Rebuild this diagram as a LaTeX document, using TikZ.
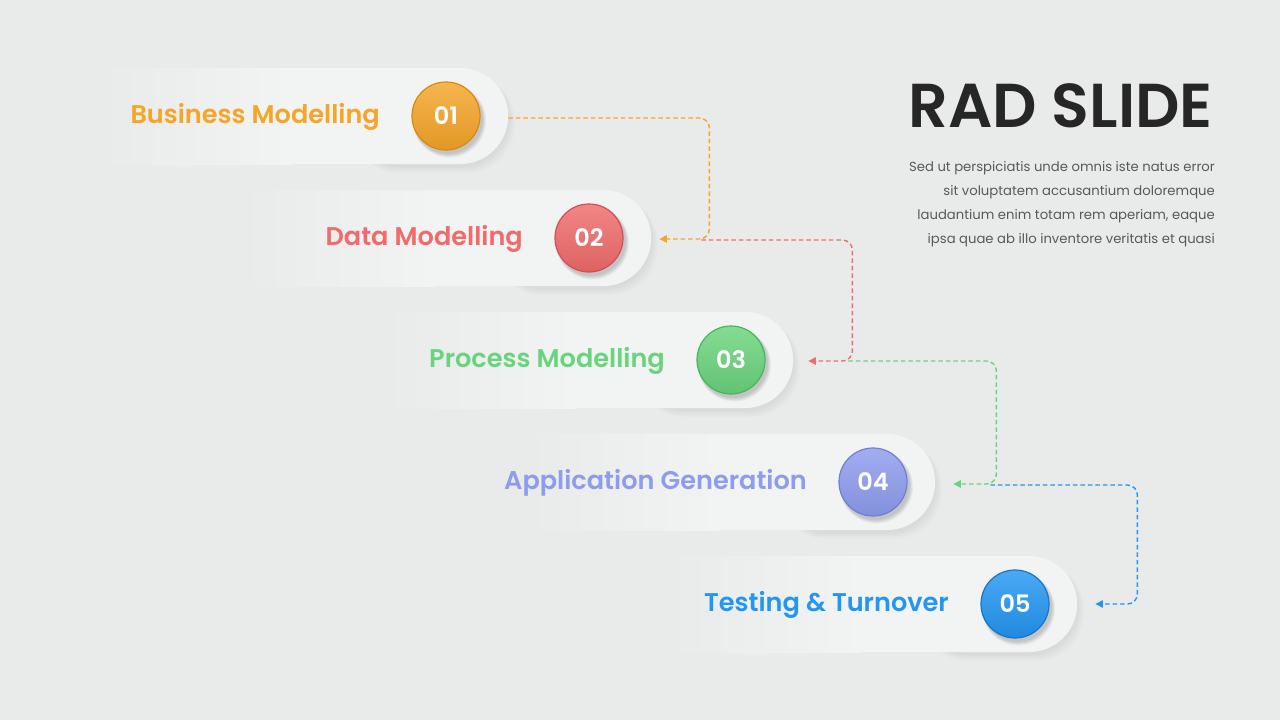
\documentclass[tikz,border=0pt]{standalone}
\usepackage{fontspec}
\setmainfont{Poppins}
\newfontfamily\semib{Poppins SemiBold}
\usetikzlibrary{shapes.misc,arrows.meta,calc}
\definecolor{bg}{HTML}{E9EAEA}
\definecolor{pillc}{HTML}{F2F3F3}
\definecolor{cOne}{HTML}{F5A528}
\definecolor{cOneD}{HTML}{D98A0C}
\definecolor{cTwo}{HTML}{F06B6B}
\definecolor{cTwoD}{HTML}{D24E53}
\definecolor{cThree}{HTML}{6AD47C}
\definecolor{cThreeD}{HTML}{47B65A}
\definecolor{cFour}{HTML}{8E9CEE}
\definecolor{cFourD}{HTML}{6F7ED6}
\definecolor{cFive}{HTML}{2396F2}
\definecolor{cFiveD}{HTML}{1375CF}
\definecolor{titlec}{HTML}{262626}
\definecolor{bodyc}{HTML}{595959}
\tikzset{
  pillbox/.style={rounded rectangle, rounded rectangle west arc=none, minimum width=407pt, minimum height=96pt, inner sep=0pt, fill=pillc},
  ballnode/.style={circle, minimum size=68pt, inner sep=0pt, text=white, font=\semib\fontsize{24}{24}\selectfont},
  steplabel/.style={anchor=east, inner sep=0pt, font=\semib\fontsize{25.6}{25.6}\selectfont},
  link/.style={line width=1.4pt, dash pattern=on 4.5pt off 3pt, rounded corners=10pt, -{Triangle[length=7.5pt,width=7.5pt]}},
}
\newcommand{\stepitem}[6]{% #1 idx, #2 left x, #3 centre y, #4 colour, #5 dark colour, #6 text
  \foreach \k in {1,...,8}{
    \fill[black, opacity=0.008, rounded corners=48pt] (#2+250,#3-48+2+\k*0.5) -- (#2+407+\k*0.9,#3-48+2+\k*0.5) -- (#2+407+\k*0.9,#3+48+2+\k*0.9) -- (#2+250,#3+48+2+\k*0.9) -- cycle;
  }
  \node[pillbox, anchor=west] (pill#1) at (#2,#3) {};
  \shade[left color=bg, right color=pillc] (#2-1,#3-48) rectangle (#2+190,#3+48);
  \foreach \k in {1,...,5}{
    \fill[black, opacity=0.04] (#2+345+2+\k*0.3,#3+3+\k*0.4) circle (34pt+\k*0.5pt);
  }
  \shade[top color=#4!82!white, bottom color=#4!92!black, draw=#5, line width=1.2pt] (#2+345,#3) circle (34pt);
  \node[ballnode] (ball#1) at (#2+345,#3) {0#1};
  \node[steplabel, text=#4] (label#1) at ($(ball#1.center)+(-66,1)$) {#6};
}
\begin{document}
\begin{tikzpicture}[x=1pt,y=-1pt]
\fill[bg] (0,0) rectangle (1280,720);
\useasboundingbox (0,0) rectangle (1280,720);

\stepitem{1}{101}{116}{cOne}{cOneD}{Business Modelling}
\stepitem{2}{244}{238}{cTwo}{cTwoD}{Data Modelling}
\stepitem{3}{386}{360}{cThree}{cThreeD}{Process Modelling}
\stepitem{4}{528}{482}{cFour}{cFourD}{Application Generation}
\stepitem{5}{670}{604}{cFive}{cFiveD}{Testing \& Turnover}

\coordinate (t2) at ($(pill2.east)+(8,1)$);
\coordinate (t3) at ($(pill3.east)+(15,1)$);
\coordinate (t4) at ($(pill4.east)+(18,2)$);
\coordinate (t5) at ($(pill5.east)+(18,0)$);
\coordinate (s2) at ($(pill2.east)+(50,2)$);
\coordinate (s3) at ($(pill3.east)+(55,1)$);
\coordinate (s4) at ($(pill4.east)+(55,3)$);

\draw[link, cOne] ($(pill1.east)+(0,2)$) -| ($(t2)+(50,0)$) -- (t2);
\draw[link, cTwo] (s2) -| ($(t3)+(44,0)$) -- (t3);
\draw[link, cThree] (s3) -| ($(t4)+(43,0)$) -- (t4);
\draw[link, cFive] (s4) -| ($(t5)+(42,0)$) -- (t5);

\node[anchor=east, inner sep=0pt, text=titlec, font=\semib\fontsize{62}{62}\selectfont] (title) at (1213,106) {RAD SLIDE};
\node[anchor=north east, align=right, text=bodyc, font=\fontsize{13.2}{24}\selectfont, inner sep=0pt] (body) at (1215,161)
 {Sed ut perspiciatis unde omnis iste natus error\\
  sit voluptatem accusantium doloremque\\
  laudantium enim totam rem aperiam, eaque\\
  ipsa quae ab illo inventore veritatis et quasi};
\end{tikzpicture}
\end{document}
